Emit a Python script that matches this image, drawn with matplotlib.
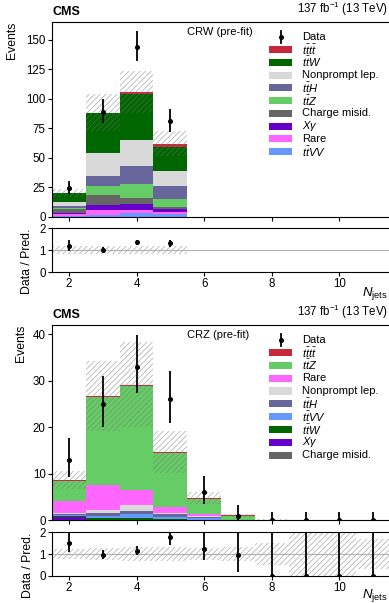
import numpy as np
import matplotlib
matplotlib.use('Agg')
import matplotlib.pyplot as plt
from matplotlib.patches import Rectangle

# Tipografía tipo Helvetica y mathtext sans-serif
plt.rcParams['font.family'] = ['Liberation Sans', 'DejaVu Sans']
plt.rcParams['mathtext.fontset'] = 'custom'
plt.rcParams['mathtext.rm'] = 'Liberation Sans'
plt.rcParams['mathtext.it'] = 'Liberation Sans:italic'
plt.rcParams['mathtext.bf'] = 'Liberation Sans:bold'
plt.rcParams['hatch.linewidth'] = 0.5

# Región CRW: número de jets y contribuciones por proceso
crw_nj = [2, 3, 4, 5]
crw_ttvv = [0.5, 1.1, 2.8, 2.5]
crw_rare = [1.8, 4.3, 2.6, 1.4]
crw_xgamma = [1.1, 4.7, 5.0, 2.3]
crw_chargemisid = [3.1, 7.9, 5.7, 1.7]
crw_ttz = [1.3, 8.2, 11.8, 7.0]
crw_tth = [0.9, 8.2, 14.9, 11.0]
crw_nonprompt = [3.9, 20.0, 22.0, 12.7]
crw_ttw = [7.5, 33.2, 39.1, 20.3]
crw_tttt = [0.1, 0.6, 2.0, 3.1]
crw_unc = [3.4, 15.5, 18.0, 10.4]
crw_data = [24, 89, 144, 81]
crw_err_lo = [4.9, 9.4, 12.0, 9.0]
crw_err_hi = [6.0, 10.5, 13.0, 10.0]

# Región CRZ
crz_nj = [2, 3, 4, 5, 6, 7, 8, 9, 10, 11]
crz_chargemisid = [0.02, 0.05, 0.05, 0.05, 0.02, 0, 0, 0, 0, 0]
crz_xgamma = [0.6, 0.05, 0.05, 0.05, 0.03, 0, 0, 0, 0, 0]
crz_ttw = [0.35, 0.35, 0.5, 0.15, 0.1, 0.02, 0, 0, 0, 0]
crz_ttvv = [0.15, 0.45, 0.7, 0.5, 0.25, 0.05, 0, 0, 0, 0]
crz_tth = [0.15, 0.75, 0.7, 0.6, 0.3, 0.03, 0, 0, 0, 0]
crz_nonprompt = [0.2, 0.55, 1.2, 0.3, 0.25, 0, 0, 0, 0, 0]
crz_rare = [2.7, 5.35, 3.35, 1.15, 0.35, 0.05, 0, 0, 0, 0]
crz_ttz = [4.3, 18.9, 22.35, 11.6, 3.35, 0.8, 0.12, 0.03, 0.02, 0.01]
crz_tttt = [0.15, 0.3, 0.3, 0.25, 0.2, 0.1, 0, 0, 0, 0]
crz_unc = [1.9, 7.5, 9.1, 4.55, 1.3, 0.32, 0.06, 0.04, 0.03, 0.007]
crz_data = [13, 25, 33, 26, 6, 1, 0, 0, 0, 0]
crz_err_lo = [3.6, 5.0, 5.7, 5.1, 2.4, 0.83, 0, 0, 0, 0]
crz_err_hi = [4.7, 6.1, 6.8, 6.2, 3.6, 2.3, 1.84, 1.84, 1.84, 1.84]

colores = {
    'tttt': '#c8283c',
    'ttw': '#006600',
    'nonprompt': '#d9d9d9',
    'tth': '#66669a',
    'ttz': '#66cc66',
    'chargemisid': '#666666',
    'xgamma': '#6600cc',
    'rare': '#ff66ff',
    'ttvv': '#6699ff',
}
etiquetas = {
    'tttt': r'$t\bar{t}t\bar{t}$',
    'ttw': r'$t\bar{t}W$',
    'nonprompt': 'Nonprompt lep.',
    'tth': r'$t\bar{t}H$',
    'ttz': r'$t\bar{t}Z$',
    'chargemisid': 'Charge misid.',
    'xgamma': r'$X\gamma$',
    'rare': 'Rare',
    'ttvv': r'$t\bar{t}VV$',
}

FS = 8.3
FS_LEG = 8.0
HATCH = '//////'
GRIS_HATCH = (0.45, 0.45, 0.45, 0.6)


def leyenda(ax, orden):
    # Leyenda dibujada a mano con separación fija entre filas
    x0, ancho, alto = 0.642, 0.068, 0.036
    xt = 0.74
    y = 0.9246
    paso = 0.0656
    xc = x0 + ancho / 2
    ax.plot([xc, xc], [y - 0.03, y + 0.03], color='black', lw=1.3,
            transform=ax.transAxes, clip_on=False)
    ax.plot([xc], [y], 'o', color='black', markersize=2.6,
            transform=ax.transAxes, clip_on=False)
    ax.text(xt, y, 'Data', transform=ax.transAxes, va='center', ha='left',
            fontsize=FS_LEG)
    for i, nombre in enumerate(orden, start=1):
        yi = y - i * paso
        ax.add_patch(Rectangle((x0, yi - alto / 2), ancho, alto,
                               transform=ax.transAxes,
                               facecolor=colores[nombre], edgecolor='none'))
        ax.text(xt, yi, etiquetas[nombre], transform=ax.transAxes,
                va='center', ha='left', fontsize=FS_LEG)


def dibujar_region(ax, rax, nj, pilas, unc, datos, err_lo, err_hi, region,
                   ymax, yticks, lab_main, lab_ratio, lab_x):
    nj = np.asarray(nj, dtype=float)
    fondo = np.zeros(len(nj))
    for nombre, valores in pilas:
        ax.bar(nj, valores, width=1.0, bottom=fondo, color=colores[nombre],
               linewidth=0)
        fondo = fondo + np.asarray(valores, dtype=float)
    total = fondo
    unc = np.asarray(unc, dtype=float)
    ax.bar(nj, 2 * unc, width=1.0, bottom=total - unc, fill=False,
           hatch=HATCH, edgecolor=GRIS_HATCH, linewidth=0)
    ax.errorbar(nj, datos, yerr=[err_lo, err_hi], fmt='o', color='black',
                markersize=2.6, elinewidth=1.3, capsize=0, zorder=5)

    # Leyenda en orden inverso al apilado
    leyenda(ax, [n for n, _ in pilas][::-1])
    ax.text(0.40, 0.948, region, transform=ax.transAxes, va='center',
            ha='left', fontsize=FS_LEG)
    ax.text(0.0, 1.02, 'CMS', transform=ax.transAxes, va='bottom',
            ha='left', fontsize=9, fontweight='bold')
    ax.text(0.995, 1.02, r'137 fb$^{-1}$ (13 TeV)', transform=ax.transAxes,
            va='bottom', ha='right', fontsize=FS)

    ax.set_xlim(1.5, 11.5)
    ax.set_ylim(0, ymax)
    ax.set_yticks(yticks)
    ax.set_xticks([2, 4, 6, 8, 10])
    ax.tick_params(labelbottom=False, direction='out', length=3,
                   labelsize=FS, pad=1.5)
    ax.set_ylabel('Events', loc='top', fontsize=8.8)
    ax.yaxis.set_label_coords(lab_main, 1.0)

    # Panel de cociente datos / predicción
    rel = unc / total
    rax.bar(nj, 2 * rel, width=1.0, bottom=1 - rel, fill=False, hatch=HATCH,
            edgecolor=GRIS_HATCH, linewidth=0)
    rax.axhline(1, color='#b0b0b0', linewidth=0.8, zorder=1)
    datos = np.asarray(datos, dtype=float)
    rax.errorbar(nj, datos / total,
                 yerr=[np.asarray(err_lo) / total, np.asarray(err_hi) / total],
                 fmt='o', color='black', markersize=2.6, elinewidth=1.3,
                 capsize=0, zorder=5)
    rax.set_xlim(1.5, 11.5)
    rax.set_ylim(0, 2)
    rax.set_yticks([0, 1, 2])
    rax.set_xticks([2, 4, 6, 8, 10])
    rax.tick_params(direction='out', length=3, labelsize=FS, pad=1.5)
    rax.set_ylabel('Data / Pred.', loc='top', fontsize=8.8)
    rax.yaxis.set_label_coords(lab_ratio, 1.0)
    rax.set_xlabel(r'$N_{\mathrm{jets}}$', fontsize=9.5, ha='right')
    rax.xaxis.set_label_coords(0.993, lab_x)


fig = plt.figure(figsize=(3.89, 6.03), dpi=100)
L, W = 0.1337, 0.869
ax1 = fig.add_axes([L, 0.6406, W, 0.3229])
rax1 = fig.add_axes([L, 0.5489, W, 0.0725])
ax2 = fig.add_axes([L, 0.1371, W, 0.3239])
rax2 = fig.add_axes([L, 0.0453, W, 0.0719])

pilas_crw = [('ttvv', crw_ttvv), ('rare', crw_rare), ('xgamma', crw_xgamma),
             ('chargemisid', crw_chargemisid), ('ttz', crw_ttz),
             ('tth', crw_tth), ('nonprompt', crw_nonprompt),
             ('ttw', crw_ttw), ('tttt', crw_tttt)]
pilas_crz = [('chargemisid', crz_chargemisid), ('xgamma', crz_xgamma),
             ('ttw', crz_ttw), ('ttvv', crz_ttvv), ('tth', crz_tth),
             ('nonprompt', crz_nonprompt), ('rare', crz_rare),
             ('ttz', crz_ttz), ('tttt', crz_tttt)]

dibujar_region(ax1, rax1, crw_nj, pilas_crw, crw_unc, crw_data, crw_err_lo,
               crw_err_hi, 'CRW (pre-fit)', 165, [0, 25, 50, 75, 100, 125, 150],
               -0.10, -0.055, -0.3)
dibujar_region(ax2, rax2, crz_nj, pilas_crz, crz_unc, crz_data, crz_err_lo,
               crz_err_hi, 'CRZ (pre-fit)', 42, [0, 10, 20, 30, 40],
               -0.075, -0.053, -0.26)

fig.savefig('out.png', dpi=100)
